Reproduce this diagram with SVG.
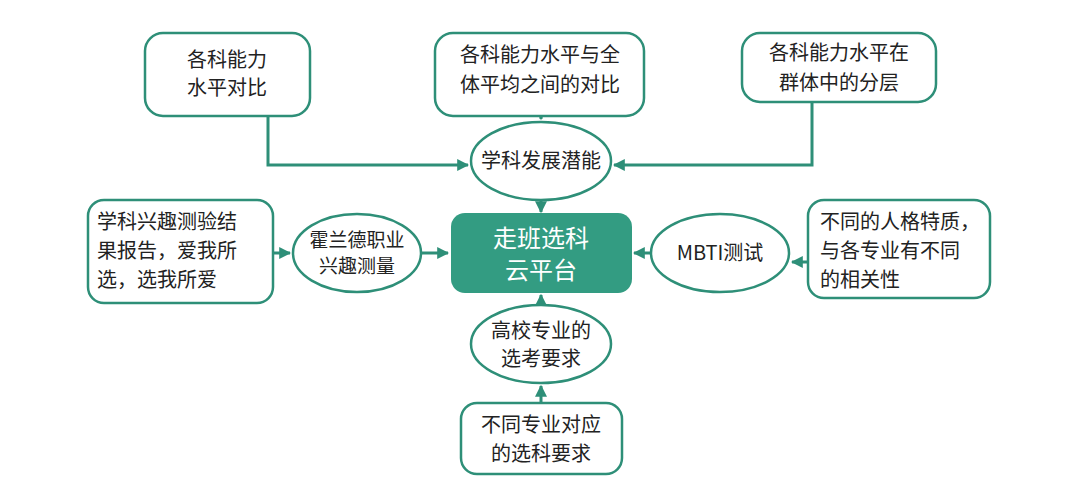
<svg xmlns="http://www.w3.org/2000/svg" width="1080" height="482" viewBox="0 0 1080 482">
<defs>
<marker id="ah" viewBox="0 0 10 10" refX="9" refY="5" markerWidth="4" markerHeight="4" orient="auto"><path d="M0,0 L10,5 L0,10 z" fill="#2e8f78"/></marker>
<style>
.n{fill:#fff;stroke:#2e8f78;stroke-width:2.5}
.t{font-family:"Noto Sans CJK SC","Liberation Sans",sans-serif;font-size:20px;fill:#222;text-anchor:middle}
.l{text-anchor:start}
.c{fill:none;stroke:#2e8f78;stroke-width:3;marker-end:url(#ah)}
</style>
</defs>
<rect width="1080" height="482" fill="#fff"/>
<g id="connectors">
<path class="c" d="M268,116 V165 H468"/>
<path class="c" d="M812,102 V165 H614"/>
<path class="c" d="M541,116 V119"/>
<path class="c" d="M541,200 V212"/>
<path class="c" d="M421,253 H448"/>
<path class="c" d="M651,253 H634"/>
<path class="c" d="M273,253 H290"/>
<path class="c" d="M808,262 H792"/>
<path class="c" d="M541,305 V295"/>
<path class="c" d="M541,403 V386"/>
</g>
<g id="n1"><rect class="n" x="145" y="33" width="165" height="83" rx="18"/><text class="t" x="227" y="67">各科能力</text><text class="t" x="227" y="95">水平对比</text></g>
<g id="n2"><rect class="n" x="435" y="33" width="209" height="83" rx="18"/><text class="t" x="540" y="62">各科能力水平与全</text><text class="t" x="540" y="92">体平均之间的对比</text></g>
<g id="n3"><rect class="n" x="742" y="33" width="194" height="69" rx="18"/><text class="t" x="839" y="60">各科能力水平在</text><text class="t" x="839" y="90">群体中的分层</text></g>
<g id="n4"><ellipse class="n" cx="541" cy="161" rx="70" ry="39"/><text class="t" x="541" y="168">学科发展潜能</text></g>
<g id="center"><rect x="451" y="213" width="181" height="80" rx="14" fill="#339c82"/><text class="t" x="541" y="247" style="fill:#fff;font-size:24px">走班选科</text><text class="t" x="541" y="279" style="fill:#fff;font-size:24px">云平台</text></g>
<g id="n5"><ellipse class="n" cx="357" cy="253" rx="64" ry="39"/><text class="t" x="357" y="247" style="font-size:19px">霍兰德职业</text><text class="t" x="357" y="273" style="font-size:19px">兴趣测量</text></g>
<g id="n6"><ellipse class="n" cx="720" cy="253" rx="69" ry="39"/><text class="t" x="720" y="260">MBTI测试</text></g>
<g id="n7"><rect class="n" x="88" y="200" width="185" height="103" rx="16"/><text class="t l" x="97" y="229">学科兴趣测验结</text><text class="t l" x="97" y="258">果报告，爱我所</text><text class="t l" x="97" y="287">选，选我所爱</text></g>
<g id="n8"><rect class="n" x="808" y="200" width="182" height="98" rx="16"/><text class="t l" x="820" y="229">不同的人格特质，</text><text class="t l" x="820" y="258">与各专业有不同</text><text class="t l" x="820" y="287">的相关性</text></g>
<g id="n9"><ellipse class="n" cx="541" cy="344" rx="70" ry="39"/><text class="t" x="541" y="338">高校专业的</text><text class="t" x="541" y="366">选考要求</text></g>
<g id="n10"><rect class="n" x="461" y="403" width="161" height="71" rx="16"/><text class="t" x="541" y="432">不同专业对应</text><text class="t" x="541" y="461">的选科要求</text></g>
</svg>
